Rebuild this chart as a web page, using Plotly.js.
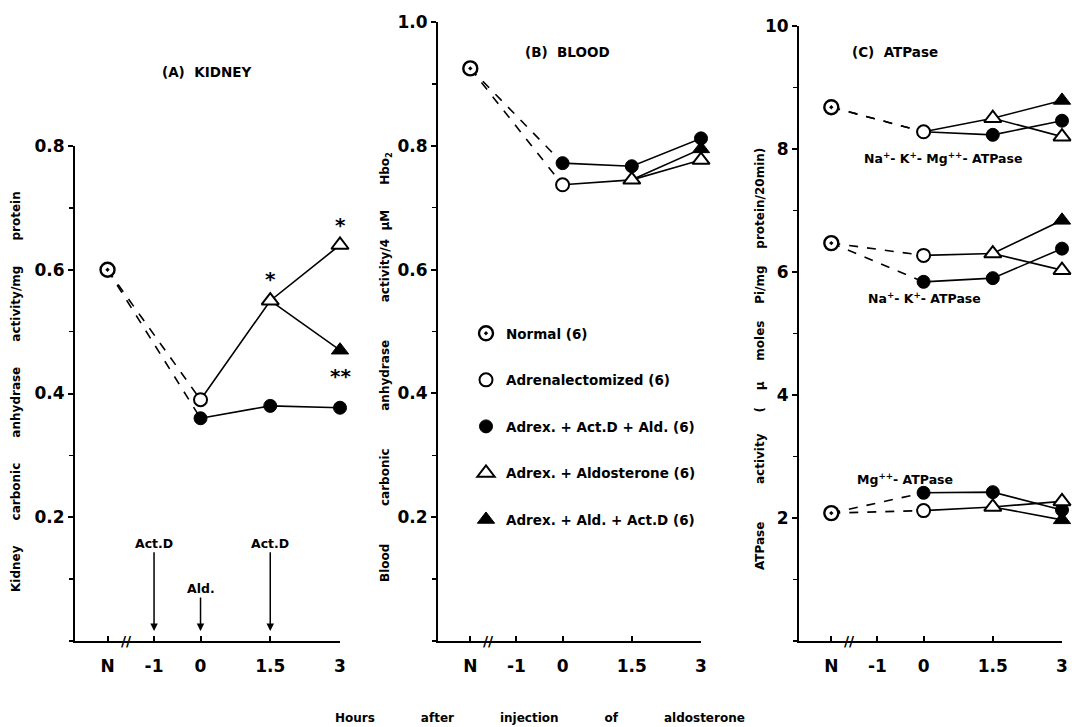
<!DOCTYPE html>
<html>
<head>
<meta charset="utf-8">
<script src="https://cdn.plot.ly/plotly-3.0.1.min.js"></script>
<style>html,body{margin:0;padding:0;background:#fff;}#chart{width:1074px;height:727px;}</style>
</head>
<body>
<div id="chart"></div>
<script>
// ---- x positions / tick labels ----
const tickHours = [-2, -1, 0, 1.5, 3];
const tickLabels = ['N', '-1', '0', '1.5', '3'];
const hourNormal = [-2];
const hourAdrex = [0];
const hourActDAld = [0, 1.5, 3];
const hourAldo = [1.5, 3];
const hourAldActD = [3];

// ---- legend names ----
const groupNames = ['Normal (6)', 'Adrenalectomized (6)', 'Adrex. + Act.D + Ald. (6)', 'Adrex. + Aldosterone (6)', 'Adrex. + Ald. + Act.D (6)'];

// ---- (A) Kidney carbonic anhydrase ----
const kidNormal = [0.60];
const kidAdrex = [0.39];
const kidActDAld = [0.36, 0.38, 0.377];
const kidAldo = [0.55, 0.64];
const kidAldActD = [0.47];

// ---- (B) Blood carbonic anhydrase ----
const bldNormal = [0.925];
const bldAdrex = [0.737];
const bldActDAld = [0.772, 0.767, 0.812];
const bldAldo = [0.745, 0.777];
const bldAldActD = [0.795];

// ---- (C) ATPase ----
const naKMgNormal = [8.68];
const naKMgAdrex = [8.28];
const naKMgActDAld = [8.28, 8.23, 8.46];
const naKMgAldo = [8.50, 8.20];
const naKMgAldActD = [8.79];

const naKNormal = [6.47];
const naKAdrex = [6.27];
const naKActDAld = [5.84, 5.90, 6.38];
const naKAldo = [6.30, 6.03];
const naKAldActD = [6.84];

const mgNormal = [2.08];
const mgAdrex = [2.12];
const mgActDAld = [2.41, 2.42, 2.13];
const mgAldo = [2.18, 2.27];
const mgAldActD = [1.97];

const FONT = 'DejaVu Sans, Liberation Sans, sans-serif';
const traces = [];

const mk = {
  normal: {symbol: 'circle-dot', size: 14, color: '#fff', line: {color: '#000', width: 2.4}},
  adrex: {symbol: 'circle', size: 13, color: '#fff', line: {color: '#000', width: 2}},
  actdald: {symbol: 'circle', size: 13, color: '#000', line: {color: '#000', width: 1}},
  aldo: {symbol: 'triangle-up', size: 15, color: '#fff', line: {color: '#000', width: 2}},
  aldactd: {symbol: 'triangle-up', size: 15, color: '#000', line: {color: '#000', width: 1}}
};

function line(xa, ya, x, y, dash) {
  traces.push({type: 'scatter', mode: 'lines', x: x, y: y, xaxis: xa, yaxis: ya,
    line: {color: '#000', width: 1.6, dash: dash ? 'dash' : 'solid'}, showlegend: false,
    hoverinfo: 'skip', cliponaxis: false});
}
function pts(xa, ya, x, y, m) {
  traces.push({type: 'scatter', mode: 'markers', x: x, y: y, xaxis: xa, yaxis: ya,
    marker: m, showlegend: false, cliponaxis: false});
}
function panel(xa, ya, normal, adrex, actdald, aldo, aldactd) {
  line(xa, ya, [hourNormal[0], hourAdrex[0]], [normal[0], adrex[0]], true);
  line(xa, ya, [hourNormal[0], hourActDAld[0]], [normal[0], actdald[0]], true);
  line(xa, ya, hourAdrex.concat(hourAldo), adrex.concat(aldo), false);
  line(xa, ya, [hourAldo[0]].concat(hourAldActD), [aldo[0]].concat(aldactd), false);
  line(xa, ya, hourActDAld, actdald, false);
  pts(xa, ya, hourActDAld, actdald, mk.actdald);
  pts(xa, ya, hourAdrex, adrex, mk.adrex);
  pts(xa, ya, hourAldo, aldo, mk.aldo);
  pts(xa, ya, hourAldActD, aldactd, mk.aldactd);
  pts(xa, ya, hourNormal, normal, mk.normal);
}

panel('x', 'y', kidNormal, kidAdrex, kidActDAld, kidAldo, kidAldActD);
panel('x2', 'y2', bldNormal, bldAdrex, bldActDAld, bldAldo, bldAldActD);
panel('x3', 'y3', naKMgNormal, naKMgAdrex, naKMgActDAld, naKMgAldo, naKMgAldActD);
panel('x3', 'y3', naKNormal, naKAdrex, naKActDAld, naKAldo, naKAldActD);
panel('x3', 'y3', mgNormal, mgAdrex, mgActDAld, mgAldo, mgAldActD);

// legend entries (markers only)
const legendMarkers = [mk.normal, mk.adrex, mk.actdald, mk.aldo, mk.aldactd];
groupNames.forEach((n, i) => {
  traces.push({type: 'scatter', mode: 'markers', x: [null], y: [null], xaxis: 'x2', yaxis: 'y2',
    name: n, legendgroup: 'g' + i, marker: legendMarkers[i], showlegend: true});
});

const W = 1074, H = 727;
const px = v => v / W;
const py = v => 1 - v / H;

const tickFont = {family: FONT, size: 17, color: '#000', weight: 'bold'};
function xAxis(l, r) {
  return {domain: [px(l), px(r)], range: [-2.7, 3], tickvals: tickHours, ticktext: tickLabels,
    showline: true, linecolor: '#000', linewidth: 2, ticks: 'inside', ticklen: 5, tickwidth: 2,
    tickcolor: '#000', showgrid: false, zeroline: false, tickfont: tickFont, ticklabelstandoff: 9,
    fixedrange: true};
}
function yAxis(top, max, dt, anchor) {
  const vals = [];
  for (let v = dt; v <= max + 1e-9; v += dt) vals.push(+v.toFixed(3));
  return {domain: [py(641), py(top)], range: [0, max], tickvals: vals,
    ticktext: vals.map(v => dt < 1 ? v.toFixed(1) : String(v)),
    showline: true, linecolor: '#000', linewidth: 2, ticks: 'outside', ticklen: 5, tickwidth: 2,
    tickcolor: '#000', showgrid: false, zeroline: false, tickfont: tickFont, anchor: anchor,
    minor: {dtick: dt / 2, ticks: 'outside', ticklen: 4, tickwidth: 1.5, tickcolor: '#000', showgrid: false},
    fixedrange: true};
}

const nb = n => '\u00a0'.repeat(n);
const titleFont = {family: FONT, size: 13.5, color: '#000', weight: 'bold'};
const labFont = {family: FONT, size: 12, color: '#000', weight: 'bold'};
const smallFont = {family: FONT, size: 12.5, color: '#000', weight: 'bold'};

function note(text, x, y, font, angle) {
  return {text: text, x: px(x), y: py(y), xref: 'paper', yref: 'paper', xanchor: 'center', yanchor: 'middle',
    showarrow: false, font: font, textangle: angle || 0};
}

const annotations = [
  note('(A)' + nb(2) + 'KIDNEY', 206, 72, titleFont),
  note('(B)' + nb(2) + 'BLOOD', 567, 52, titleFont),
  note('(C)' + nb(2) + 'ATPase', 895, 52, titleFont),
  note('Kidney' + nb(6) + 'carbonic' + nb(6) + 'anhydrase' + nb(6) + 'activity/mg' + nb(6) + 'protein', 16, 392, labFont, -90),
  note('Blood' + nb(9) + 'carbonic' + nb(9) + 'anhydrase' + nb(9) + 'activity/4' + nb(2) + 'μM' + nb(6) + 'Hbo<sub>2</sub>', 386, 367, labFont, -90),
  note('ATPase' + nb(9) + 'activity' + nb(5) + '(' + nb(4) + 'μ' + nb(5) + 'moles' + nb(4) + 'Pi/mg' + nb(4) + 'protein/20min)', 760, 359, labFont, -90),
  note('Hours' + nb(11) + 'after' + nb(11) + 'injection' + nb(11) + 'of' + nb(11) + 'aldosterone', 540, 718, labFont),
  // panel C labels
  note('Na<sup>+</sup>- K<sup>+</sup>- Mg<sup>++</sup>- ATPase', 943, 158, smallFont),
  note('Na<sup>+</sup>- K<sup>+</sup>- ATPase', 924, 298, smallFont),
  note('Mg<sup>++</sup>- ATPase', 905, 479, smallFont)
];
// panel A arrows
[[-1, 0.158, 'Act.D'], [0, 0.085, 'Ald.'], [1.5, 0.158, 'Act.D']].forEach(a => {
  annotations.push({text: a[2], x: a[0], y: 0.016, ax: a[0], ay: a[1], xref: 'x', yref: 'y', axref: 'x', ayref: 'y',
    showarrow: true, arrowhead: 2, arrowsize: 1, arrowwidth: 1.5, arrowcolor: '#000', font: smallFont});
});
// significance
annotations.push({text: '*', x: 1.5, y: 0.585, xref: 'x', yref: 'y', showarrow: false, font: {family: FONT, size: 20, color: '#000', weight: 'bold'}});
annotations.push({text: '*', x: 3, y: 0.672, xref: 'x', yref: 'y', showarrow: false, font: {family: FONT, size: 20, color: '#000', weight: 'bold'}});
annotations.push({text: '**', x: 3, y: 0.428, xref: 'x', yref: 'y', showarrow: false, font: {family: FONT, size: 20, color: '#000', weight: 'bold'}});
// axis breaks
['x', 'x2', 'x3'].forEach((xa, i) => {
  annotations.push({text: '//', x: -1.6, y: 0, xref: xa, yref: ['y', 'y2', 'y3'][i], showarrow: false,
    font: {family: FONT, size: 14, color: '#000', weight: 'bold'}});
});

const layout = {
  width: W, height: H, margin: {l: 0, r: 0, t: 0, b: 0},
  paper_bgcolor: '#fff', plot_bgcolor: 'rgba(0,0,0,0)',
  showlegend: true,
  legend: {x: px(466), y: py(318), xanchor: 'left', yanchor: 'top', bgcolor: 'rgba(0,0,0,0)',
    tracegroupgap: 26, itemwidth: 30, font: {family: FONT, size: 13.5, color: '#000', weight: 'bold'}},
  xaxis: Object.assign(xAxis(75, 340), {anchor: 'y'}),
  yaxis: yAxis(146, 0.8, 0.2, 'x'),
  xaxis2: Object.assign(xAxis(438, 701), {anchor: 'y2'}),
  yaxis2: yAxis(22, 1.0, 0.2, 'x2'),
  xaxis3: Object.assign(xAxis(799, 1062), {anchor: 'y3'}),
  yaxis3: yAxis(26, 10, 2, 'x3'),
  annotations: annotations
};

Plotly.newPlot('chart', traces, layout, {displayModeBar: false, staticPlot: true});
</script>
</body>
</html>
